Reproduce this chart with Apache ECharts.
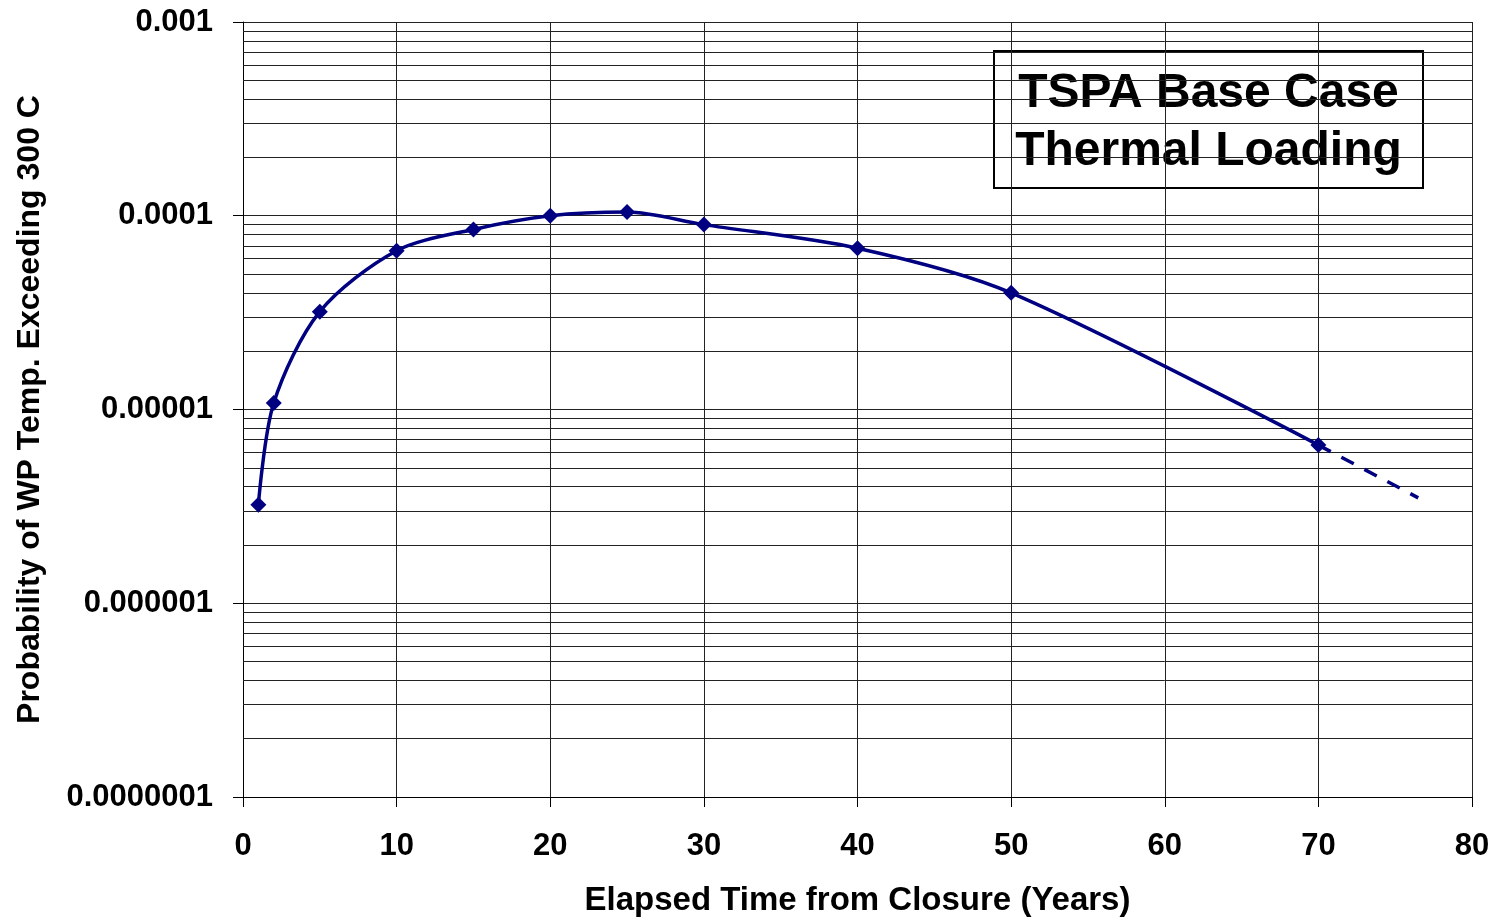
<!DOCTYPE html>
<html>
<head>
<meta charset="utf-8">
<script src="https://cdn.jsdelivr.net/npm/echarts@6/dist/echarts.min.js"></script>
<style>
html,body{margin:0;padding:0;background:#fff;}
#chart{width:1495px;height:918px;}
</style>
</head>
<body>
<div id="chart"></div>
<script>
// ---- data ----
var years = [1, 2, 5, 10, 15, 20, 25, 30, 40, 50, 70];
var probability = [3.22e-6, 1.08e-5, 3.2e-5, 6.6e-5, 8.5e-5, 1.0e-4, 1.045e-4, 9.0e-5, 6.8e-5, 4.0e-5, 6.55e-6];
var extYears = [70, 76.5];
var extProbability = [6.55e-6, 3.5e-6];
var yTickLabels = ['0.0000001', '0.000001', '0.00001', '0.0001', '0.001'];
var yTickExponents = [-7, -6, -5, -4, -3];
var minorMultipliers = [2, 3, 4, 5, 6, 7, 8, 9];
var xMin = 0, xMax = 80;
var boxLines = ['TSPA Base Case', 'Thermal Loading'];
var xAxisTitle = 'Elapsed Time from Closure (Years)';
var yAxisTitle = 'Probability of WP Temp. Exceeding 300 C';

// minor grid values (2..9 × each decade)
var minorValues = [];
for (var e = -7; e < -3; e++) {
  minorMultipliers.forEach(function (m) { minorValues.push(m * Math.pow(10, e)); });
}

var FONT = '"Liberation Sans", Arial, sans-serif';
var gridColor = '#222';

var chart = echarts.init(document.getElementById('chart'));
chart.setOption({
  animation: false,
  backgroundColor: '#fff',
  grid: { left: 243, right: 23, top: 22, bottom: 121, containLabel: false, outerBoundsMode: 'none' },
  xAxis: {
    type: 'value', min: xMin, max: xMax, interval: 10,
    axisLine: { show: true, onZero: false, lineStyle: { color: '#000', width: 1 } },
    axisTick: { show: true, inside: false, length: 10, lineStyle: { color: '#000' } },
    splitLine: { show: true, lineStyle: { color: gridColor, width: 1 } },
    axisLabel: { fontFamily: FONT, fontWeight: 'bold', fontSize: 31, color: '#000', margin: 34 },
    name: xAxisTitle, nameLocation: 'middle', nameGap: 87,
    nameTextStyle: { fontFamily: FONT, fontWeight: 'bold', fontSize: 33, color: '#000' }
  },
  yAxis: {
    type: 'log', logBase: 10, min: 1e-7, max: 1e-3,
    axisLine: { show: true, onZero: false, lineStyle: { color: '#000', width: 1 } },
    axisTick: { show: true, inside: false, length: 10, lineStyle: { color: '#000' } },
    splitLine: { show: true, lineStyle: { color: gridColor, width: 1 } },
    axisLabel: {
      fontFamily: FONT, fontWeight: 'bold', fontSize: 31, color: '#000', margin: 30,
      formatter: function (v) {
        var ex = Math.round(Math.log10(v));
        var i = yTickExponents.indexOf(ex);
        return i >= 0 ? yTickLabels[i] : '';
      }
    },
    name: yAxisTitle, nameLocation: 'middle', nameGap: 197, nameRotate: 90,
    nameTextStyle: { fontFamily: FONT, fontWeight: 'bold', fontSize: 32, color: '#000' }
  },
  series: [
    {
      type: 'lines', coordinateSystem: 'cartesian2d', silent: true, z: 1,
      polyline: false,
      lineStyle: { color: gridColor, width: 1, opacity: 1 },
      data: minorValues.map(function (v) { return { coords: [[xMin, v], [xMax, v]] }; })
    },
    {
      type: 'line', symbol: 'none', z: 3,
      data: extYears.map(function (x, i) { return [x, extProbability[i]]; }),
      lineStyle: { color: '#000080', width: 3.5, type: [14, 12] }
    },
    {
      type: 'line', smooth: 0.3, z: 4,
      symbol: 'diamond', symbolSize: 16,
      itemStyle: { color: '#000080' },
      lineStyle: { color: '#000080', width: 3.5 },
      data: years.map(function (x, i) { return [x, probability[i]]; })
    }
  ],
  graphic: [
    {
      type: 'group', left: 993, top: 50, z: 100,
      children: [
        { type: 'rect', shape: { x: 0, y: 0, width: 429, height: 137 },
          style: { fill: '#fff', stroke: '#000', lineWidth: 2 } },
        { type: 'text', x: 214.5, y: 72,
          style: { text: boxLines.join('\n'), fill: '#000', font: 'bold 48px ' + FONT,
                   align: 'center', verticalAlign: 'middle', lineHeight: 58 } }
      ]
    }
  ]
});
</script>
</body>
</html>
